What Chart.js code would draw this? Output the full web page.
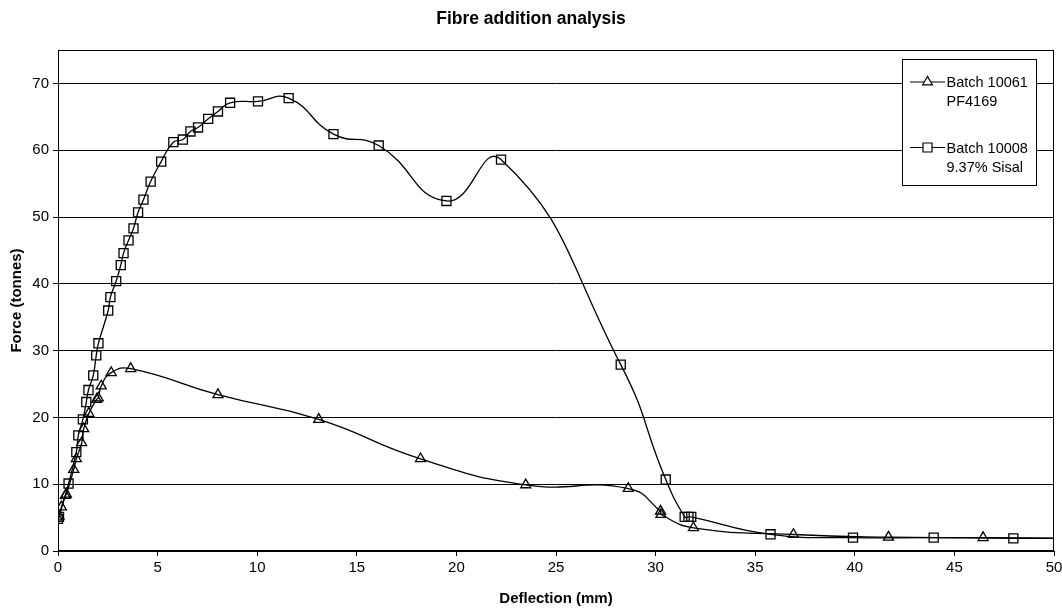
<!DOCTYPE html>
<html>
<head>
<meta charset="utf-8">
<title>Fibre addition analysis</title>
<script src="https://cdn.jsdelivr.net/npm/chart.js@4.4.1/dist/chart.umd.min.js"></script>
<style>
    html, body { margin: 0; padding: 0; background: #fff; }
    #wrap { width: 1062px; height: 608px; }
</style>
</head>
<body>
<div id="wrap"><canvas id="fibreChart" width="1062" height="608"></canvas></div>
<script>
// --- Values ---
const chartTitle = 'Fibre addition analysis';
const xTitle = 'Deflection (mm)';
const yTitle = 'Force (tonnes)';
const xTicks = [0, 5, 10, 15, 20, 25, 30, 35, 40, 45, 50];
const yTicks = [0, 10, 20, 30, 40, 50, 60, 70];

// Batch 10061 / PF4169 (triangles)
const pfLabel = ['Batch 10061', 'PF4169'];
const pfX = [0, 0.05, 0.17, 0.37, 0.42, 0.79, 0.92, 1.19, 1.29, 1.55, 1.94, 2.02, 2.17, 2.67, 3.65, 8.03, 13.09, 18.2, 23.48, 28.63, 30.25, 30.27, 31.9, 36.92, 41.69, 46.44, 51];
const pfY = [4.9, 5.2, 6.6, 8.3, 8.5, 12.2, 13.8, 16.2, 18.3, 20.6, 22.7, 22.9, 24.7, 26.7, 27.3, 23.4, 19.7, 13.8, 9.9, 9.35, 5.96, 5.46, 3.47, 2.47, 2.07, 2.0, 1.9];

// Batch 10008 / 9.37% Sisal (squares)
const sisalLabel = ['Batch 10008', '9.37% Sisal'];
const sisalX = [0, 0.05, 0.53, 0.92, 1.02, 1.25, 1.42, 1.53, 1.77, 1.92, 2.03, 2.52, 2.63, 2.92, 3.15, 3.29, 3.54, 3.79, 4.02, 4.29, 4.65, 5.18, 5.79, 6.27, 6.65, 7.03, 7.54, 8.03, 8.64, 10.04, 11.58, 13.83, 16.1, 19.5, 22.24, 28.25, 30.51, 31.46, 31.65, 31.79, 35.77, 39.91, 43.96, 47.96, 51];
const sisalY = [4.8, 5.1, 10.1, 14.8, 17.3, 19.7, 22.3, 24.1, 26.3, 29.3, 31.1, 36.0, 38.0, 40.4, 42.8, 44.6, 46.5, 48.3, 50.7, 52.6, 55.3, 58.3, 61.2, 61.6, 62.8, 63.4, 64.7, 65.8, 67.1, 67.3, 67.8, 62.4, 60.7, 52.4, 58.6, 27.9, 10.7, 5.1, 5.1, 5.1, 2.5, 2.0, 2.0, 1.9, 1.9];

const FONT = "'Liberation Sans', Arial, Helvetica, sans-serif";

function toPoints(xs, ys) {
    return xs.map((x, i) => ({ x: x, y: ys[i] }));
}

// --- Frame round the plot area plus the boxed legend (Excel style) ---
const framePlugin = {
    id: 'frame',
    afterDatasetsDraw(chart) {
        const { ctx, chartArea: a } = chart;
        ctx.save();
        ctx.strokeStyle = '#000';
        ctx.lineWidth = 1;
        ctx.strokeRect(Math.round(a.left) + 0.5, Math.round(a.top) + 0.5,
            Math.round(a.right - a.left) - 1, Math.round(a.bottom - a.top) - 1);
        ctx.restore();
    },
    afterDraw(chart) {
        const ctx = chart.ctx;
        const box = { x: 902.5, y: 59.5, w: 134, h: 126 };
        ctx.save();
        ctx.fillStyle = '#fff';
        ctx.fillRect(box.x, box.y, box.w, box.h);
        ctx.strokeStyle = '#000';
        ctx.lineWidth = 1;
        ctx.strokeRect(box.x, box.y, box.w, box.h);

        const entries = [
            { style: 'triangle', lines: pfLabel, y: 82 },
            { style: 'rect', lines: sisalLabel, y: 147.5 }
        ];
        entries.forEach(e => {
            ctx.strokeStyle = '#000';
            ctx.lineWidth = 1.2;
            ctx.beginPath();
            ctx.moveTo(910, e.y);
            ctx.lineTo(945, e.y);
            ctx.stroke();
            drawMarker(ctx, e.style, 927.5, e.y);
            ctx.fillStyle = '#000';
            ctx.font = '14.5px ' + FONT;
            ctx.textAlign = 'left';
            ctx.textBaseline = 'middle';
            e.lines.forEach((t, i) => ctx.fillText(t, 946.5, e.y + 1 + i * 19));
        });
        ctx.restore();
    }
};

function drawMarker(ctx, style, x, y) {
    ctx.beginPath();
    if (style === 'triangle') {
        const r = 5.6;
        ctx.moveTo(x, y - r);
        ctx.lineTo(x + r * 0.866, y + r * 0.5);
        ctx.lineTo(x - r * 0.866, y + r * 0.5);
        ctx.closePath();
    } else {
        ctx.rect(x - 4.5, y - 4.5, 9, 9);
    }
    ctx.fillStyle = '#fff';
    ctx.fill();
    ctx.stroke();
}

document.addEventListener('DOMContentLoaded', function() {
    const ctx = document.getElementById('fibreChart').getContext('2d');

    const lineStyle = {
        borderColor: '#000',
        borderWidth: 1.3,
        backgroundColor: 'rgba(0,0,0,0)',
        pointBorderColor: '#000',
        pointBackgroundColor: 'rgba(0,0,0,0)',
        pointBorderWidth: 1.3,
        fill: false,
        tension: 0.5
    };

    new Chart(ctx, {
        type: 'line',
        data: {
            datasets: [
                Object.assign({ label: pfLabel.join(' '), data: toPoints(pfX, pfY), pointStyle: 'triangle', pointRadius: 5.8 }, lineStyle),
                Object.assign({ label: sisalLabel.join(' '), data: toPoints(sisalX, sisalY), pointStyle: 'rect', pointRadius: 6.4 }, lineStyle)
            ]
        },
        options: {
            responsive: false,
            animation: false,
            devicePixelRatio: 1,
            layout: { padding: { left: 0, right: 0, top: 0, bottom: 0 } },
            plugins: {
                legend: { display: false },
                tooltip: { enabled: false },
                title: {
                    display: true,
                    text: chartTitle,
                    color: '#000',
                    font: { family: FONT, size: 17.5, weight: 'bold', lineHeight: 1.2 },
                    padding: { top: 9, bottom: 20 }
                }
            },
            scales: {
                x: {
                    type: 'linear',
                    min: 0,
                    max: 50,
                    afterBuildTicks: scale => { scale.ticks = xTicks.map(v => ({ value: v })); },
                    afterFit: scale => { scale.height = 57; scale.paddingRight = 8; },
                    grid: { drawOnChartArea: false, drawTicks: true, tickLength: 5, tickColor: '#000' },
                    border: { color: '#000', width: 1 },
                    ticks: { color: '#000', font: { family: FONT, size: 15 }, padding: 3, maxRotation: 0 },
                    title: { display: true, text: xTitle, color: '#000', font: { family: FONT, size: 15, weight: 'bold', lineHeight: 1.2 }, padding: { top: 0, bottom: 0 } }
                },
                y: {
                    type: 'linear',
                    min: 0,
                    max: 75,
                    afterBuildTicks: scale => { scale.ticks = yTicks.map(v => ({ value: v })); },
                    afterFit: scale => { scale.width = 58; },
                    grid: { color: '#000', lineWidth: 1, drawTicks: true, tickLength: 5, tickColor: '#000' },
                    border: { color: '#000', width: 1 },
                    ticks: { color: '#000', font: { family: FONT, size: 15 }, padding: 4 },
                    title: { display: true, text: yTitle, color: '#000', font: { family: FONT, size: 15, weight: 'bold', lineHeight: 1.2 }, padding: { top: 8, bottom: 0 } }
                }
            }
        },
        plugins: [framePlugin]
    });
});
</script>
</body>
</html>
